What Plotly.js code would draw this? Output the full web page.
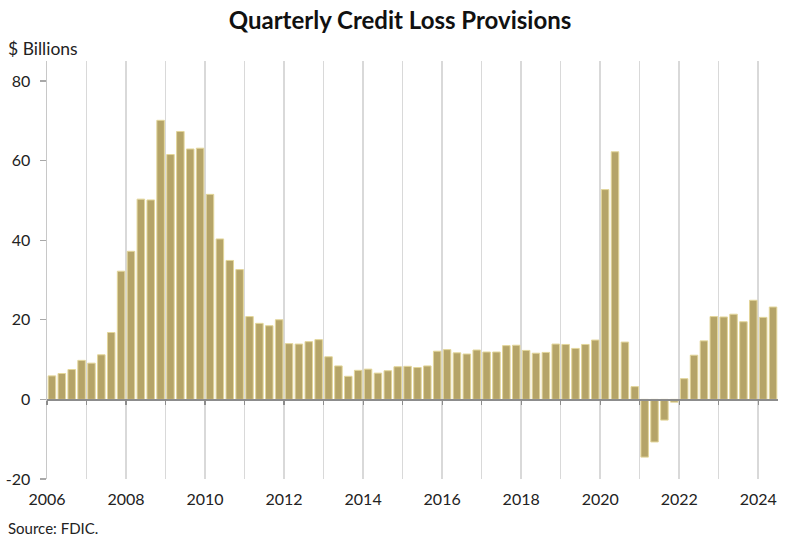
<!DOCTYPE html>
<html>
<head>
<meta charset="utf-8">
<script src="https://cdn.plot.ly/plotly-3.0.1.min.js"></script>
<style>html,body{margin:0;padding:0;background:#fff;}#chart{width:800px;height:544px;}</style>
</head>
<body>
<div id="chart"></div>
<script>
// Quarterly credit loss provisions, $ billions, 2006Q1 - 2024Q2
const startYear = 2006;
const provisions = [
  5.9, 6.5, 7.5, 9.8,      // 2006
  9.1, 11.2, 16.8, 32.2,   // 2007
  37.2, 50.3, 50.1, 70.1,  // 2008
  61.5, 67.3, 62.9, 63.1,  // 2009
  51.5, 40.3, 34.9, 32.6,  // 2010
  20.8, 19.1, 18.5, 20.0,  // 2011
  14.0, 13.9, 14.5, 15.0,  // 2012
  10.7, 8.4, 5.8, 7.3,     // 2013
  7.6, 6.6, 7.2, 8.2,      // 2014
  8.3, 8.0, 8.4, 12.1,     // 2015
  12.5, 11.7, 11.4, 12.4,  // 2016
  11.9, 11.9, 13.5, 13.6,  // 2017
  12.3, 11.6, 11.8, 13.9,  // 2018
  13.8, 12.8, 13.8, 14.9,  // 2019
  52.7, 62.2, 14.4, 3.2,   // 2020
  -14.5, -10.7, -5.2, -0.7,// 2021
  5.2, 11.1, 14.7, 20.8,   // 2022
  20.7, 21.4, 19.5, 24.9,  // 2023
  20.6, 23.2               // 2024
];
const yearTicks = [2006,2007,2008,2009,2010,2011,2012,2013,2014,2015,2016,2017,2018,2019,2020,2021,2022,2023,2024];
const yearLabels = ["2006","","2008","","2010","","2012","","2014","","2016","","2018","","2020","","2022","","2024"];
const yTicks = [-20, 0, 20, 40, 60, 80];

const xPos = provisions.map((v, i) => startYear + (i + 0.5) / 4);
const xRange = [startYear, startYear + provisions.length / 4];
const yRange = [-20, 85];

const font = "Lato, 'Open Sans', sans-serif";

const traces = [{
  type: 'bar',
  x: xPos,
  y: provisions,
  width: 0.19,
  marker: {color: '#b5a468', line: {color: '#e3d69a', width: 1}},
  hoverinfo: 'x+y'
}, {
  type: 'scatter',
  x: xRange,
  y: [0, 0],
  xaxis: 'x2',
  mode: 'lines',
  line: {color: 'rgba(0,0,0,0)', width: 0},
  hoverinfo: 'skip',
  showlegend: false
}];

const layout = {
  width: 800, height: 544,
  margin: {l: 47, r: 22, t: 61, b: 65},
  paper_bgcolor: '#fff', plot_bgcolor: '#fff',
  showlegend: false,
  bargap: 0,
  font: {family: font, size: 16, color: '#222'},
  title: {text: '<b>Quarterly Credit Loss Provisions</b>', x: 0.5, xref: 'container', y: 0.962, yanchor: 'middle',
          font: {family: font, size: 24, color: '#111'}},
  xaxis: {
    range: xRange, tickmode: 'array', tickvals: yearTicks, ticktext: yearLabels,
    showgrid: true, gridcolor: '#d9d9d9', gridwidth: 1.5,
    showline: false, zeroline: false, ticks: 'outside', ticklen: 6, tickcolor: 'rgba(0,0,0,0)',
    tickfont: {size: 16, color: '#222'}
  },
  xaxis2: {
    range: xRange, overlaying: 'x', anchor: 'free', position: (0 - yRange[0]) / (yRange[1] - yRange[0]),
    tickmode: 'array', tickvals: yearTicks, showticklabels: false, showgrid: false,
    showline: true, linecolor: '#8c8c8c', linewidth: 1.2, ticks: 'outside', ticklen: 4, tickcolor: '#8c8c8c', tickwidth: 1.2,
    zeroline: false
  },
  yaxis: {
    range: yRange, tickmode: 'array', tickvals: yTicks, ticktext: yTicks.map(String),
    showgrid: false, zeroline: false, showline: true, linecolor: '#c8c8c8', linewidth: 1.5,
    ticks: 'outside', ticklen: 6, tickcolor: '#a8a8a8', tickwidth: 1.2, ticklabelstandoff: 6,
    tickfont: {size: 16, color: '#222'}
  },
  annotations: [
    {text: '$ Billions', xref: 'paper', yref: 'paper', x: -41/731, y: 1 + 13/418, xanchor: 'left', yanchor: 'middle',
     showarrow: false, font: {family: font, size: 17.5, color: '#222'}},
    {text: 'Source: FDIC.', xref: 'paper', yref: 'paper', x: -41/731, y: -49/418, xanchor: 'left', yanchor: 'middle',
     showarrow: false, font: {family: font, size: 15, color: '#222'}}
  ]
};

Plotly.newPlot('chart', traces, layout, {displayModeBar: false, staticPlot: true});
</script>
</body>
</html>
